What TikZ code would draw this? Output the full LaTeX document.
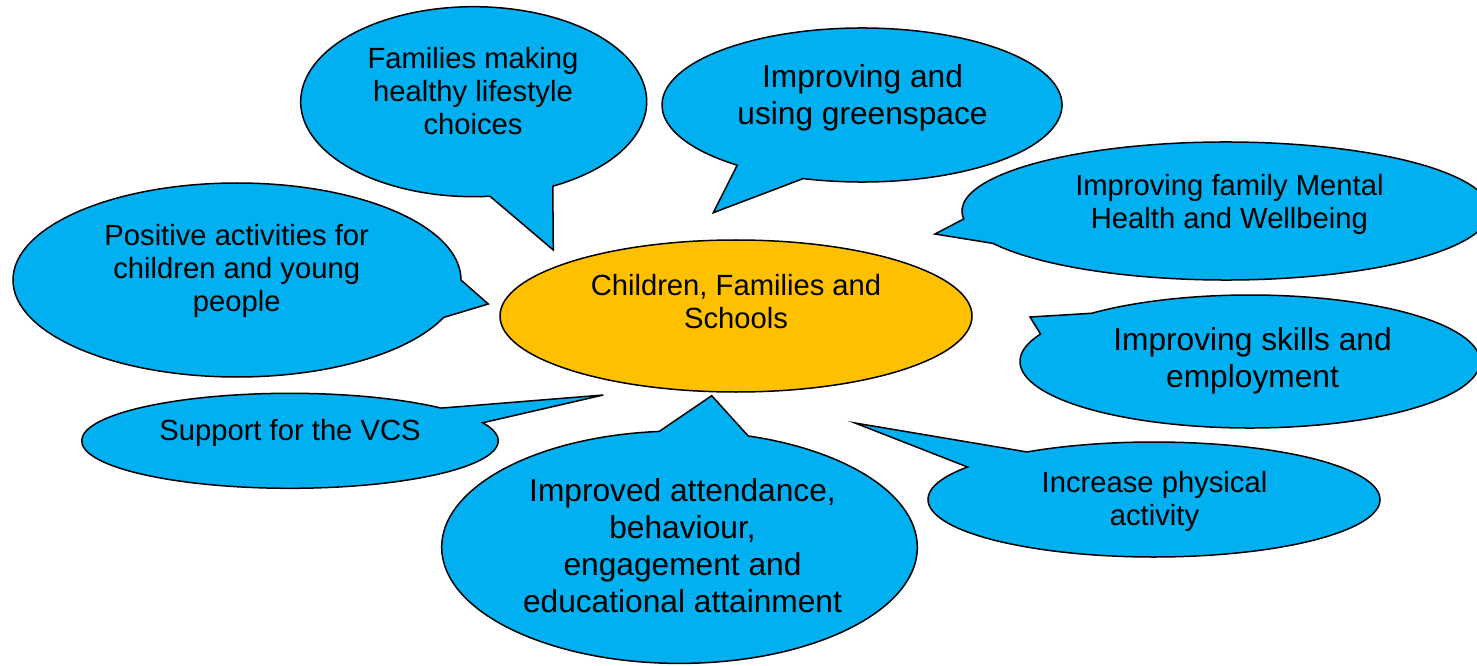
\documentclass[tikz,border=0pt]{standalone}
\usepackage{fontspec}
\setmainfont{Liberation Sans}
\definecolor{bubblue}{HTML}{00B0F0}
\definecolor{hubgold}{HTML}{FFC000}
% #1,#2 centre; #3,#4 radii; #5 start angle; #6 end angle; #7,#8 tip; #9 fill
\newcommand\speechbubble[9]{%
  \draw[bubble, fill=#9] (#1,#2) ++(#5:#3pt and #4pt)
    arc[start angle=#5, end angle=#6, x radius=#3pt, y radius=#4pt]
    -- (#7,#8) -- cycle;}
\begin{document}
\begin{tikzpicture}[x=1pt,y=1pt,
  bubble/.style={draw=black, line width=1.5pt, line join=miter},
  txt/.style={align=center, font=\fontsize{29.2}{33}\selectfont, inner sep=0pt},
  bigtxt/.style={align=center, font=\fontsize{31.7}{37}\selectfont, inner sep=0pt}]
\useasboundingbox (0,0) rectangle (1477,665);
\clip (0,0) rectangle (1477,665);

% bubbles
\speechbubble{473.7}{563.3}{173}{95}{-62.8}{275.4}{553.3}{415}{bubblue}
\speechbubble{862}{560}{200}{77}{-107.1}{231.4}{713.3}{452.3}{bubblue}
\speechbubble{1226}{454}{264}{69}{-152}{186.6}{935}{431}{bubblue}
\speechbubble{1250}{303.5}{230}{66.5}{155.6}{493.5}{1030}{348}{bubblue}
\speechbubble{237}{385}{224}{97}{0}{337.3}{488.3}{361}{bubblue}
\speechbubble{290}{224.2}{208.3}{47.5}{43.5}{382.3}{603.3}{270}{bubblue}
\speechbubble{679.5}{117.8}{237.8}{116.2}{94.9}{433.2}{711.7}{269.3}{bubblue}
\speechbubble{1154}{165.5}{226}{57.5}{145.6}{484.2}{855}{242}{bubblue}

% centre ellipse
\draw[bubble, fill=hubgold] (736,349) ellipse[x radius=236pt, y radius=76pt];

% texts
\node[txt] (hub) at (736,363.5) {Children, Families and\\Schools};
\node[txt] (fam) at (473,573.5) {Families making\\healthy lifestyle\\choices};
\node[bigtxt] (green) at (862.5,567.5) {Improving and\\using greenspace};
\node[txt] (mental) at (1229.4,460.3) {Improving family Mental\\Health and Wellbeing};
\node[bigtxt] (skills) at (1252.5,304.5) {Improving skills and\\employment};
\node[txt] (pos) at (236.7,393.7) {Positive activities for\\children and young\\people};
\node[txt] (vcs) at (290,232) {Support for the VCS};
\node[bigtxt] (attend) at (682.5,119.2) {Improved attendance,\\behaviour,\\engagement and\\educational attainment};
\node[txt] (phys) at (1154.5,163.7) {Increase physical\\activity};
\end{tikzpicture}
\end{document}
